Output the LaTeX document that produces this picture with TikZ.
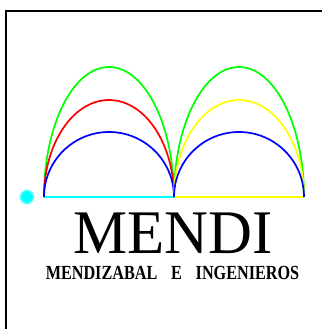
\documentclass[tikz,border=0pt]{standalone}
\usepackage{fontspec}
\setmainfont{Liberation Serif}
\definecolor{pcyan}{RGB}{0,255,255}
\definecolor{pdot}{RGB}{90,255,255}
\definecolor{pgreen}{RGB}{0,255,0}
\definecolor{pred}{RGB}{255,0,0}
\definecolor{pblue}{RGB}{0,0,255}
\definecolor{pyellow}{RGB}{255,255,0}
\tikzset{
  arcline/.style={line width=1.7pt},
  frameline/.style={line width=2pt,black},
  baseline seg/.style={line width=1.7pt},
  titletext/.style={inner sep=0pt,anchor=base,text=black}
}
\begin{document}
\begin{tikzpicture}[x=1pt,y=-1pt]
\useasboundingbox (0,0) rectangle (322,329);
\draw[frameline] (6,329) -- (6,11) -- (322,11);
% base lines
\draw[baseline seg,pcyan] (44,197) -- (174,197);
\draw[baseline seg,pyellow] (174,197) -- (304,197);
% left arches
\draw[arcline,pgreen] (44,197) arc[start angle=180,end angle=0,x radius=65,y radius=-130];
\draw[arcline,pred] (44,197) arc[start angle=180,end angle=0,x radius=65,y radius=-97];
\draw[arcline,pblue] (44,197) arc[start angle=180,end angle=0,x radius=65,y radius=-65];
% right arches
\draw[arcline,pgreen] (174,197) arc[start angle=180,end angle=0,x radius=65,y radius=-130];
\draw[arcline,pyellow] (174,197) arc[start angle=180,end angle=0,x radius=65,y radius=-97];
\draw[arcline,pblue] (174,197) arc[start angle=180,end angle=0,x radius=65,y radius=-65];
% dot
\filldraw[fill=pcyan,draw=pdot,line width=1.6pt] (27,197) circle[radius=6.5];
% text
\node[titletext,xscale=0.98] (title) at (173,253) {\fontsize{62}{62}\selectfont MENDI};
\node[titletext,xscale=0.81] (subtitle) at (172.5,279) {\fontsize{20}{20}\selectfont\bfseries MENDIZABAL\hspace{0.85em}E\hspace{0.85em}INGENIEROS};
\end{tikzpicture}
\end{document}
